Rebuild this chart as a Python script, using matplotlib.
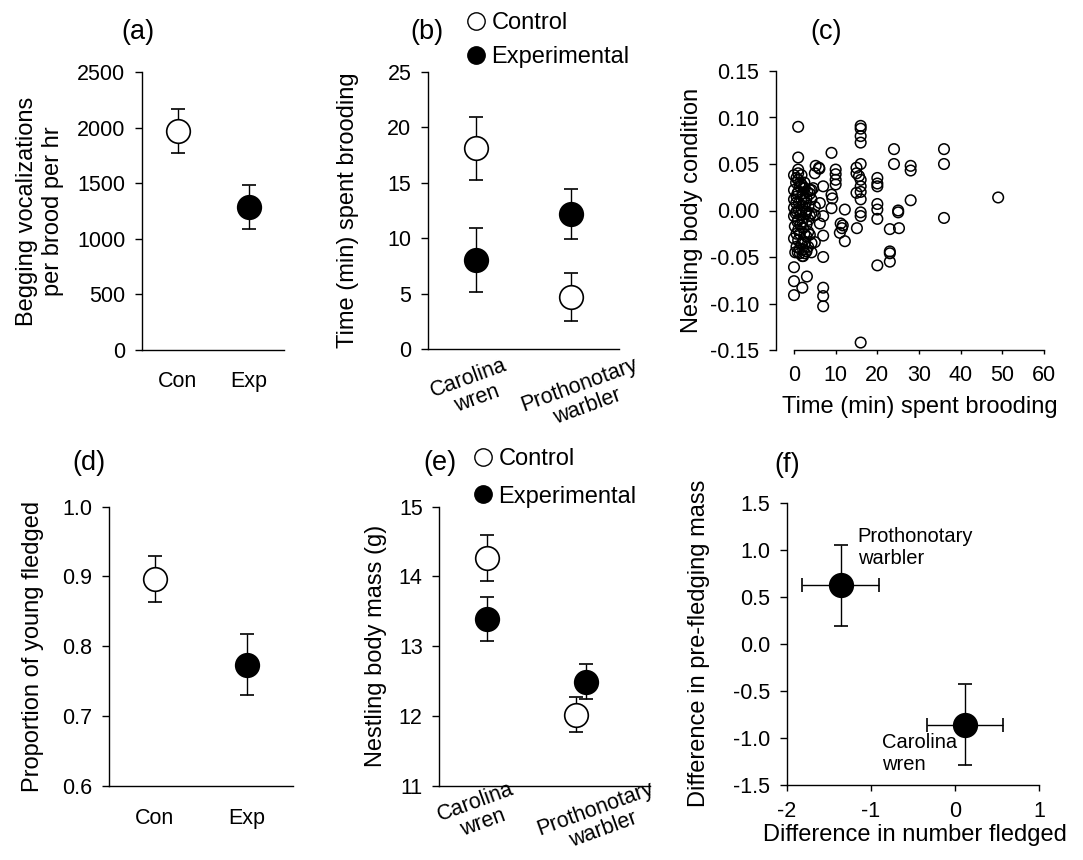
import matplotlib
matplotlib.use("Agg")
import matplotlib.pyplot as plt
from matplotlib.lines import Line2D

plt.rcParams['font.family'] = ['Liberation Sans', 'DejaVu Sans']
plt.rcParams['axes.unicode_minus'] = False

# ---------------- data ----------------
# (a) begging vocalizations
a_groups = ['Con', 'Exp']
a_mean = [1970, 1285]
a_err = [200, 200]

# (b) brooding time
species = ['Carolina\nwren', 'Prothonotary\nwarbler']
b_ctrl_mean = [18.1, 4.7]
b_ctrl_err = [2.85, 2.2]
b_exp_mean = [8.0, 12.2]
b_exp_err = [2.9, 2.25]

# (c) body condition vs brooding time
c_time = [1.0, 1.0, 1.0, 9.0, 5.2, 6.0, 6.1, 5.0, 10.0, 10.0, 10.0, 10.0, 7.0,
          9.0, 9.2, 9.0, 12.2, 11.2, 11.7, 11.5, 11.0, 12.2, 15.1,
          16.0, 16.0, 16.0, 16.0, 16.0, 15.0, 15.0, 15.6, 16.0, 16.0, 16.0, 15.0,
          16.0, 16.0, 16.0, 16.0, 20.0, 20.0, 20.0, 20.0, 20.0, 20.0, 20.0,
          23.0, 23.0, 23.0, 23.0, 24.0, 24.0, 25.0, 25.0, 25.2, 28.0, 28.0, 28.0,
          36.0, 36.0, 36.0, 49.0,
          0.0, 0.0, 0.0, 2.0, 3.1, 7.0, 7.0, 7.0, 7.0, 2.0, 4.2, 5.0, 7.0, 6.2,
          7.0, 4.2, 3.8,
          0.0, 0.6, 1.0, 0.0, 1.4, 2.6, 3.8, 4.6, 0.0, 0.6, 1.8, 3.0, 4.2, 5.0,
          0.0, 0.6, 1.8, 3.0, 4.2, 5.0, 0.0, 1.0, 2.2, 3.8, 0.2, 1.0, 2.2, 3.4,
          3.8, 0.0, 1.0, 2.2, 3.0, 0.6, 1.4, 2.2, 3.4, 4.2, 1.4, 2.2, 3.0,
          1.0, 2.0, 1.5, 2.5, 0.5, 1.2, 2.8, 0.3, 1.8, 6.2,
          0.5, 1.5, 2.5, 0.8, 2.0, 3.2, 1.2, 2.4, 3.5, 0.4, 1.6, 2.8, 0.8, 2.0,
          3.0, 1.4, 0.6, 2.6, 1.8, 0.9, 2.6, 1.0, 1.8, 3.5, 2.3]
c_cond = [0.090, 0.057, 0.044, 0.062, 0.048, 0.046, 0.045, 0.040, 0.044, 0.039,
          0.033, 0.028, 0.026, 0.017, 0.013, 0.0025, 0.001, -0.014, -0.016,
          -0.019, -0.024, -0.033, -0.019,
          0.091, 0.088, 0.080, 0.073, 0.050, 0.046, 0.040, 0.037, 0.033, 0.026,
          0.020, 0.019, 0.012, -0.002, -0.006, -0.142, 0.035, 0.029, 0.026,
          0.007, 0.001, -0.009, -0.059,
          -0.020, -0.044, -0.046, -0.055, 0.066, 0.050, 0.000, -0.002, -0.019,
          0.048, 0.043, 0.011, 0.066, 0.050, -0.008, 0.014,
          -0.061, -0.076, -0.091, -0.083, -0.071, -0.050, -0.083, -0.092, -0.103,
          -0.049, -0.045, -0.034, -0.027, -0.014, -0.006, 0.022, 0.018,
          0.038, 0.035, 0.033, 0.022, 0.026, 0.024, 0.022, 0.024, 0.012, 0.015,
          0.012, 0.013, 0.012, 0.004, 0.003, -0.001, 0.001, -0.001, -0.003,
          -0.005, -0.006, -0.010, -0.008, -0.006, -0.017, -0.021, -0.019,
          -0.023, -0.026, -0.030, -0.032, -0.033, -0.028, -0.039, -0.041,
          -0.042, -0.039, -0.035, -0.046, -0.049, -0.044,
          0.020, 0.005, -0.015, -0.025, 0.008, 0.000, 0.008, -0.045, 0.028, 0.008,
          0.030, 0.030, 0.030, 0.018, 0.018, 0.020, 0.008, 0.012, 0.005, -0.003,
          -0.005, -0.003, -0.012, -0.012, -0.015, -0.025, -0.025, -0.035,
          -0.036, -0.045, -0.046, 0.040, 0.038, -0.010, 0.025]

# (d) proportion fledged
d_groups = ['Con', 'Exp']
d_mean = [0.896, 0.773]
d_err_up = [0.033, 0.044]
d_err_dn = [0.033, 0.043]

# (e) nestling body mass
e_ctrl_mean = [14.27, 12.02]
e_ctrl_err = [0.33, 0.25]
e_exp_mean = [13.39, 12.49]
e_exp_err = [0.31, 0.25]

# (f) differences
f_species = ['Prothonotary\nwarbler', 'Carolina\nwren']
f_dfledged = [-1.36, 0.12]
f_dfledged_err = [0.46, 0.45]
f_dmass = [0.62, -0.86]
f_dmass_err = [0.43, 0.43]

# ---------------- layout ----------------
W, H = 1083, 860
fig = plt.figure(figsize=(W / 100, H / 100), dpi=100)


def add_ax(l, t, r, b):
    return fig.add_axes([l / W, 1 - b / H, (r - l) / W, (b - t) / H])


TICK_FS = 15.5
LAB_FS = 17
TITLE_FS = 19.5
LEG_FS = 17
MS = 17
LW = 1.0


def style(ax):
    for s in ['top', 'right']:
        ax.spines[s].set_visible(False)
    for s in ['left', 'bottom']:
        ax.spines[s].set_linewidth(LW)
        ax.spines[s].set_color('black')
    ax.tick_params(axis='both', labelsize=TICK_FS, direction='out', width=LW,
                   length=5, color='black')
    ax.tick_params(axis='y', pad=7)


def point(ax, x, y, yerr, filled, xerr=None):
    ax.errorbar(x, y, yerr=yerr, xerr=xerr, fmt='o', ms=MS,
                mfc='black' if filled else 'white', mec='black', mew=1.2,
                ecolor='black', elinewidth=LW, capsize=4.7, capthick=LW,
                zorder=3)


def title(txt, x, y):
    fig.text(x / W, 1 - y / H, txt, fontsize=TITLE_FS, ha='center', va='center')


def legend(ax, x, y, spacing):
    handles = [Line2D([], [], ls='none', marker='o', ms=12.5, mfc='white',
                      mec='black', mew=1.0),
               Line2D([], [], ls='none', marker='o', ms=12.5, mfc='black',
                      mec='black', mew=1.0)]
    ax.legend(handles, ['Control', 'Experimental'], loc='upper left',
              bbox_to_anchor=(x / W, 1 - y / H), bbox_transform=fig.transFigure,
              frameon=False, fontsize=LEG_FS, handlelength=0.7,
              handletextpad=0.3, labelspacing=spacing, borderpad=0,
              borderaxespad=0)


# (a)
ax = add_ax(142, 72, 284, 350)
style(ax)
point(ax, [0.5], [a_mean[0]], [a_err[0]], False)
point(ax, [1.5], [a_mean[1]], [a_err[1]], True)
ax.set_xlim(0, 2)
ax.set_ylim(0, 2500)
ax.set_yticks(range(0, 2501, 500))
ax.set_xticks([0.5, 1.5])
ax.set_xticklabels(a_groups)
ax.tick_params(axis='x', length=0, pad=15)
ax.set_ylabel('Begging vocalizations\nper brood per hr', fontsize=LAB_FS,
              va='center', linespacing=1.25)
ax.yaxis.set_label_coords(-0.72, 0.5)
title('(a)', 138, 32)

# (b)
ax = add_ax(428, 72, 619, 349)
style(ax)
point(ax, [0.5, 1.5], b_ctrl_mean, b_ctrl_err, False)
point(ax, [0.5, 1.5], b_exp_mean, b_exp_err, True)
ax.set_xlim(0, 2)
ax.set_ylim(0, 25)
ax.set_yticks(range(0, 26, 5))
ax.set_xticks([0.47, 1.63])
ax.set_xticklabels(species, rotation=20, ha='center', multialignment='center',
                   linespacing=1.1)
ax.tick_params(axis='x', length=0, pad=4)
ax.set_ylabel('Time (min) spent brooding', fontsize=LAB_FS, va='center')
ax.yaxis.set_label_coords(-0.42, 0.5)
legend(ax, 468, 12, 0.52)
title('(b)', 427, 32)

# (c)
ax = add_ax(776, 71, 1044, 350)
style(ax)
ax.scatter(c_time, c_cond, s=58, facecolors='none', edgecolors='black',
           linewidths=1.1, zorder=3, clip_on=False)
ax.set_xlim(-4.32, 60)
ax.set_ylim(-0.15, 0.15)
ax.spines['bottom'].set_bounds(0, 60)
ax.set_xticks(range(0, 61, 10))
ax.tick_params(axis='x', length=3, pad=7.5)
ax.set_yticks([-0.15, -0.10, -0.05, 0.0, 0.05, 0.10, 0.15])
ax.set_yticklabels(['-0.15', '-0.10', '-0.05', '0.00', '0.05', '0.10', '0.15'])
ax.set_xlabel('Time (min) spent brooding', fontsize=LAB_FS, va='center')
ax.xaxis.set_label_coords(0.537, -0.204)
ax.set_ylabel('Nestling body condition', fontsize=LAB_FS, va='center')
ax.yaxis.set_label_coords(-0.313, 0.5)
title('(c)', 826, 32)

# (d)
ax = add_ax(109, 506.7, 292.7, 785.7)
style(ax)
ax.errorbar([0.5], [d_mean[0]], yerr=[[d_err_dn[0]], [d_err_up[0]]], fmt='o',
            ms=MS, mfc='white', mec='black', mew=1.2, ecolor='black',
            elinewidth=LW, capsize=4.7, capthick=LW, zorder=3)
ax.errorbar([1.5], [d_mean[1]], yerr=[[d_err_dn[1]], [d_err_up[1]]], fmt='o',
            ms=MS, mfc='black', mec='black', mew=1.2, ecolor='black',
            elinewidth=LW, capsize=4.7, capthick=LW, zorder=3)
ax.set_xlim(0, 2)
ax.set_ylim(0.6, 1.0)
ax.set_yticks([0.6, 0.7, 0.8, 0.9, 1.0])
ax.set_yticklabels(['0.6', '0.7', '0.8', '0.9', '1.0'])
ax.set_xticks([0.5, 1.5])
ax.set_xticklabels(d_groups)
ax.tick_params(axis='x', length=0, pad=16)
ax.set_ylabel('Proportion of young fledged', fontsize=LAB_FS, va='center')
ax.yaxis.set_label_coords(-0.414, 0.5)
title('(d)', 89, 463)

# (e)
ax = add_ax(439.3, 506.7, 650, 785.7)
style(ax)
point(ax, [0.45, 1.30], e_ctrl_mean, e_ctrl_err, False)
point(ax, [0.45, 1.39], e_exp_mean, e_exp_err, True)
ax.set_xlim(0, 2)
ax.set_ylim(11, 15)
ax.set_yticks(range(11, 16))
ax.set_xticks([0.38, 1.52])
ax.set_xticklabels(species, rotation=20, ha='center', multialignment='center',
                   linespacing=1.05)
ax.tick_params(axis='x', length=0, pad=-5)
ax.set_ylabel('Nestling body mass (g)', fontsize=LAB_FS, va='center')
ax.yaxis.set_label_coords(-0.30, 0.5)
legend(ax, 475, 448, 0.66)
title('(e)', 440, 463)

# (f)
ax = add_ax(787, 502.7, 1039, 784.7)
style(ax)
for i in range(2):
    point(ax, [f_dfledged[i]], [f_dmass[i]], [f_dmass_err[i]], True,
          xerr=[f_dfledged_err[i]])
ax.set_xlim(-2, 1)
ax.set_ylim(-1.5, 1.5)
ax.set_xticks([-2, -1, 0, 1])
ax.set_yticks([-1.5, -1.0, -0.5, 0.0, 0.5, 1.0, 1.5])
ax.set_yticklabels(['-1.5', '-1.0', '-0.5', '0.0', '0.5', '1.0', '1.5'])
ax.tick_params(axis='x', length=4, pad=8)
ax.text(-1.16, 1.24, f_species[0], fontsize=14.5, ha='left', va='top')
ax.text(-0.866, -0.955, f_species[1], fontsize=14.5, ha='left', va='top')
ax.set_xlabel('Difference in number fledged', fontsize=LAB_FS, va='center')
ax.xaxis.set_label_coords(0.508, -0.18)
ax.set_ylabel('Difference in pre-fledging mass', fontsize=LAB_FS, va='center')
ax.yaxis.set_label_coords(-0.349, 0.5)
title('(f)', 787, 465)

fig.savefig('out.png', dpi=100)
